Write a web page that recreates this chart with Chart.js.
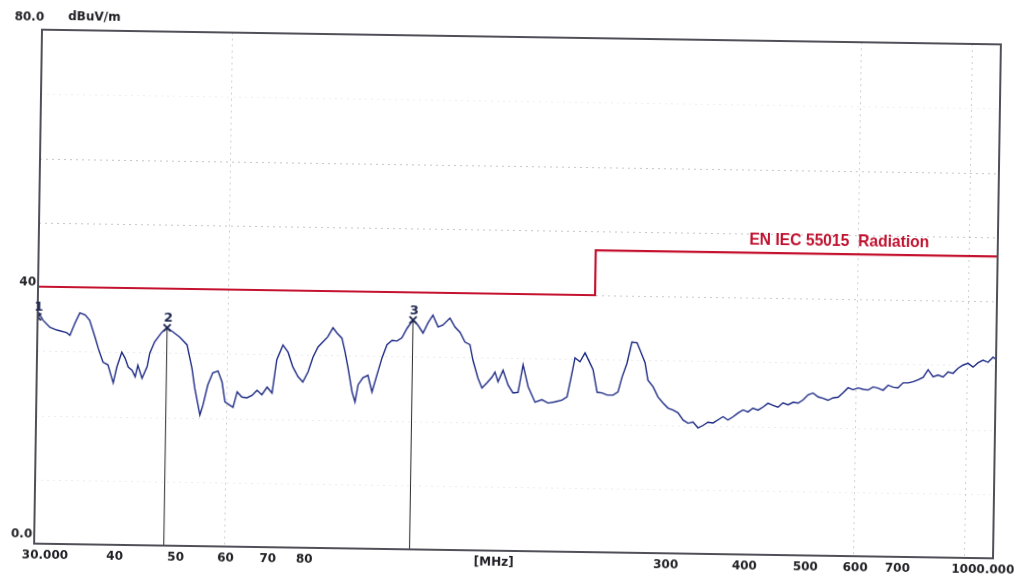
<!DOCTYPE html>
<html>
<head>
<meta charset="utf-8">
<script src="https://cdn.jsdelivr.net/npm/chart.js@4/dist/chart.umd.min.js"></script>
<style>
  html, body { margin: 0; padding: 0; background: #ffffff; }
  #wrap { width: 1018px; height: 580px; transform: rotate(0.88deg); transform-origin: 517px 294px; }
  canvas { display: block; }
</style>
</head>
<body>
<div id="wrap"><canvas id="emc" width="1018" height="580"></canvas></div>
<script>
// Measured field strength trace (MHz, dBuV/m)
const freqMHz = [
  30.0, 30.6, 31.4, 32.2, 33.4, 33.8, 34.4, 35.0, 35.7, 36.3,
  37.1, 37.5, 38.2, 38.9, 39.7, 40.2, 40.9, 41.4, 41.9, 42.5,
  43.0, 43.4, 44.1, 44.9, 45.3, 46.1, 47.3, 48.2, 49.2, 50.5,
  51.9, 52.9, 53.5, 54.6, 55.2, 56.1, 57.1, 58.2, 59.1, 59.8,
  60.9, 61.6, 62.5, 63.6, 64.8, 66.0, 67.2, 68.4, 69.7, 71.0,
  72.1, 73.7, 75.1, 76.5, 78.0, 79.4, 80.9, 82.3, 83.8, 85.3,
  86.8, 88.4, 89.7, 91.4, 92.5, 93.6, 95.1, 96.2, 97.2, 98.9,
  100.7, 102.3, 104.1, 105.9, 107.8, 109.8, 111.8, 113.8, 115.9, 118.4,
  120.6, 122.9, 125.1, 127.3, 129.8, 132.1, 135.5, 138.1, 140.7, 143.3,
  146.0, 147.7, 150.6, 152.9, 155.7, 158.5, 160.2, 162.1, 165.0, 168.2,
  171.3, 174.5, 177.5, 181.0, 185.8, 190.5, 194.9, 199.9, 205.0, 208.8,
  212.3, 214.5, 218.5, 222.5, 226.7, 229.3, 233.0, 237.3, 241.7, 247.0,
  251.5, 255.0, 259.5, 263.9, 268.9, 271.9, 277.2, 280.4, 285.8, 291.2,
  296.7, 302.3, 307.8, 313.6, 319.5, 325.4, 331.4, 337.6, 343.9, 350.1,
  356.6, 363.1, 369.8, 376.5, 383.5, 390.5, 397.7, 405.0, 412.3, 420.1,
  427.7, 435.5, 443.5, 451.8, 460.0, 468.7, 477.3, 486.2, 495.0, 504.1,
  513.2, 522.9, 532.5, 542.4, 552.4, 562.6, 572.7, 583.1, 594.1, 604.8,
  616.2, 627.6, 639.2, 651.0, 663.0, 675.0, 687.5, 699.8, 712.8, 726.1,
  739.4, 752.8, 766.6, 780.5, 795.2, 809.6, 824.8, 839.7, 855.1, 870.6,
  886.6, 903.1, 919.7, 936.6, 953.6, 971.3, 989.0, 1000
];
const levelDb = [
  36.2, 34.8, 33.7, 33.3, 32.9, 32.5, 34.4, 36.0, 35.7, 34.9,
  32.1, 30.6, 28.4, 28.0, 25.2, 27.7, 30.0, 29.1, 27.7, 27.2,
  26.2, 28.0, 26.0, 27.8, 29.9, 31.7, 33.2, 33.9, 33.3, 32.5,
  31.3, 27.7, 24.6, 20.4, 22.0, 25.1, 27.0, 27.3, 25.6, 22.5,
  22.0, 21.7, 24.1, 23.3, 23.2, 23.6, 24.4, 23.7, 24.9, 24.0,
  29.2, 31.5, 30.4, 28.1, 26.6, 25.8, 27.4, 29.7, 31.3, 32.1,
  32.9, 34.3, 33.5, 32.7, 30.6, 28.1, 24.4, 22.8, 25.5, 26.6,
  27.0, 24.4, 27.1, 29.7, 31.8, 32.5, 32.4, 32.9, 34.4, 35.7,
  34.9, 33.7, 35.3, 36.5, 34.7, 35.0, 36.1, 34.7, 33.9, 32.4,
  32.0, 29.6, 26.8, 25.3, 26.1, 27.0, 27.8, 26.3, 28.1, 25.8,
  24.6, 24.7, 29.0, 25.6, 23.2, 23.6, 23.1, 23.3, 23.6, 24.1,
  27.8, 30.2, 29.6, 31.0, 29.4, 28.4, 24.9, 24.8, 24.5, 24.5,
  25.0, 27.3, 29.5, 32.8, 32.7, 31.6, 29.6, 26.9, 25.9, 24.3,
  23.4, 22.6, 22.3, 21.9, 20.8, 20.3, 20.5, 19.6, 20.0, 20.5,
  20.4, 20.9, 21.4, 20.9, 21.4, 22.0, 22.5, 22.2, 22.8, 22.5,
  23.0, 23.6, 23.3, 23.0, 23.7, 23.4, 23.8, 23.7, 24.2, 25.0,
  25.3, 24.7, 24.5, 24.2, 24.6, 24.7, 25.4, 26.2, 25.9, 26.2,
  26.0, 25.9, 26.4, 26.2, 25.9, 26.7, 26.4, 26.3, 27.1, 27.1,
  27.3, 27.6, 28.0, 29.2, 28.1, 28.4, 28.1, 28.9, 28.7, 29.5,
  30.0, 30.3, 29.7, 30.4, 30.8, 30.5, 31.3, 31.0
];

// EN IEC 55015 radiated limit (step at 230 MHz)
const limitFreq = [30, 230, 230, 1000];
const limitLevel = [40, 40, 47, 47];
const limitName = 'EN IEC 55015  Radiation';

// Peak markers
const markerFreq = [30.0, 48.2, 118.4];
const markerLevel = [35.3, 33.9, 35.7];
const markerNames = ['1', '2', '3'];

// Axis labelling
const xTickValues = [30, 40, 50, 60, 70, 80, 160, 300, 400, 500, 600, 700, 1000];
const xTickLabels = ['30.000', '40', '50', '60', '70', '80', '[MHz]', '300', '400', '500', '600', '700', '1000.000'];
const yTickValues = [80, 40, 0];
const yTickLabels = ['80.0', '40', '0.0'];
const yUnit = 'dBuV/m';
const yGridValues = [10, 20, 30, 40, 50, 60, 70];
const yGridAlpha  = [0.18, 0.18, 0.2, 0.5, 0.55, 0.55, 0.15];
const xGridValues = [60, 600, 900];

const pts = (xs, ys) => xs.map((x, i) => ({ x: x, y: ys[i] }));

const markerLineSets = markerFreq.slice(1).map((f, i) => ({
  data: [{ x: f, y: 0 }, { x: f, y: markerLevel[i + 1] }],
  borderColor: '#2a2a2a', borderWidth: 1, pointRadius: 0, order: 3
}));

const LABEL_FONT = 'bold 12px "DejaVu Sans", "Liberation Sans", sans-serif';

const overlay = {
  id: 'overlay',
  beforeDatasetsDraw(chart) {
    const { ctx, chartArea: a, scales: { x, y } } = chart;
    ctx.save();
    ctx.lineWidth = 1;
    ctx.setLineDash([2, 4]);
    yGridValues.forEach((v, i) => {
      ctx.strokeStyle = 'rgba(150,150,165,' + yGridAlpha[i] + ')';
      const py = Math.round(y.getPixelForValue(v)) + 0.5;
      ctx.beginPath(); ctx.moveTo(a.left, py); ctx.lineTo(a.right, py); ctx.stroke();
    });
    ctx.strokeStyle = 'rgba(160,160,170,0.5)';
    xGridValues.forEach(v => {
      const px = Math.round(x.getPixelForValue(v)) + 0.5;
      ctx.beginPath(); ctx.moveTo(px, a.top); ctx.lineTo(px, a.bottom); ctx.stroke();
    });
    ctx.restore();
  },
  afterDatasetsDraw(chart) {
    const { ctx, chartArea: a, scales: { x, y } } = chart;
    ctx.save();
    // plot frame
    ctx.strokeStyle = '#505058';
    ctx.lineWidth = 2;
    ctx.strokeRect(a.left, a.top, a.right - a.left, a.bottom - a.top);
    // marker numbers
    ctx.fillStyle = '#1c2550';
    ctx.font = 'bold 13px "DejaVu Sans", sans-serif';
    ctx.textAlign = 'center';
    ctx.textBaseline = 'bottom';
    markerFreq.forEach((f, i) => {
      ctx.fillText(markerNames[i], x.getPixelForValue(f) + 1, y.getPixelForValue(markerLevel[i]) - 3);
    });
    // limit caption, condensed to its printed width
    ctx.fillStyle = '#c0112e';
    ctx.font = 'bold 17px "Liberation Sans", sans-serif';
    ctx.textAlign = 'center';
    ctx.textBaseline = 'bottom';
    const w = ctx.measureText(limitName).width;
    const cx = x.getPixelForValue(560), cy = y.getPixelForValue(47) - 4;
    ctx.translate(cx, cy);
    ctx.scale(180 / w, 1);
    ctx.fillText(limitName, 0, 0);
    ctx.restore();
  },
  afterDraw(chart) {
    const { ctx, chartArea: a, scales: { x, y } } = chart;
    ctx.save();
    ctx.fillStyle = '#1e1e24';
    ctx.font = LABEL_FONT;
    ctx.textBaseline = 'middle';
    ctx.textAlign = 'center';
    xTickValues.forEach((v, i) => {
      let px = x.getPixelForValue(v) + 2;
      if (i === 0) px += 9;
      if (i === xTickValues.length - 1) px -= 12;
      ctx.fillText(xTickLabels[i], px, a.bottom + 12);
    });
    ctx.textAlign = 'right';
    const yOff = [-12, -4, -9];
    yTickValues.forEach((v, i) => {
      ctx.fillText(yTickLabels[i], a.left - 2 + (i === 0 ? 4 : 0), y.getPixelForValue(v) + yOff[i]);
    });
    ctx.textAlign = 'left';
    ctx.fillText(yUnit, a.left + 26, y.getPixelForValue(80) - 13);
    ctx.restore();
  }
};

new Chart(document.getElementById('emc'), {
  type: 'line',
  data: {
    datasets: [
      {
        data: pts(freqMHz, levelDb),
        borderColor: '#1f2c86', borderWidth: 1.4, pointRadius: 0, tension: 0, order: 2
      },
      {
        data: pts(limitFreq, limitLevel),
        borderColor: '#c4122f', borderWidth: 2.2, pointRadius: 0, tension: 0, order: 1
      },
      ...markerLineSets,
      {
        data: pts(markerFreq, markerLevel),
        showLine: false, pointStyle: 'crossRot', pointRadius: 5,
        borderColor: '#1c2550', borderWidth: 1.8, order: 0
      }
    ]
  },
  options: {
    responsive: false,
    animation: false,
    devicePixelRatio: 1,
    layout: { padding: { left: 38, top: 37, right: 21, bottom: 29 } },
    plugins: { legend: { display: false }, tooltip: { enabled: false } },
    scales: {
      x: { type: 'logarithmic', min: 30, max: 1000, display: false },
      y: { type: 'linear', min: 0, max: 80, display: false }
    }
  },
  plugins: [overlay]
});
</script>
</body>
</html>
